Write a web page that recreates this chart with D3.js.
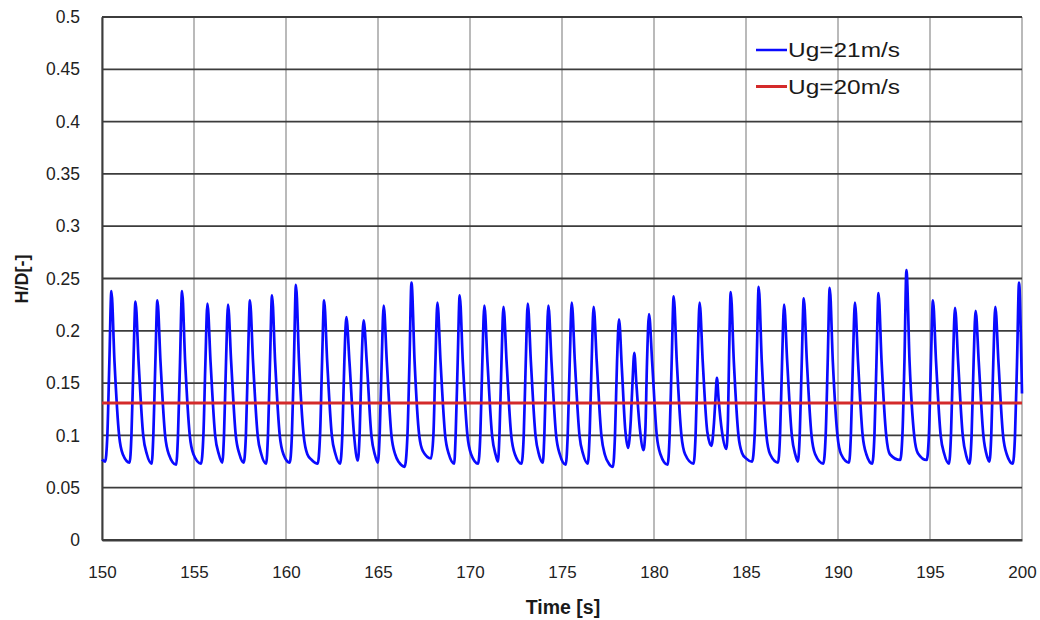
<!DOCTYPE html>
<html>
<head>
<meta charset="utf-8">
<script src="https://cdn.jsdelivr.net/npm/d3@7"></script>
<style>
  html, body { margin: 0; padding: 0; background: #ffffff; }
  svg { display: block; font-family: "Liberation Sans", Arial, sans-serif; }
</style>
</head>
<body>
<svg id="chart" width="1040" height="620"></svg>
<script>
// ---------------- data ----------------
const xTicks = [150, 155, 160, 165, 170, 175, 180, 185, 190, 195, 200];
const xTickLabels = ["150", "155", "160", "165", "170", "175", "180", "185", "190", "195", "200"];
const yTicks = [0, 0.05, 0.1, 0.15, 0.2, 0.25, 0.3, 0.35, 0.4, 0.45, 0.5];
const yTickLabels = ["0", "0.05", "0.1", "0.15", "0.2", "0.25", "0.3", "0.35", "0.4", "0.45", "0.5"];
const seriesNames = ["Ug=21m/s", "Ug=20m/s"];

// Ug=21m/s : time [s]
const time21 = [
  150.00, 150.17,
  150.29, 150.40, 150.51, 150.68, 150.93, 151.13, 151.50,
  151.60, 151.71, 151.82, 151.99, 152.24, 152.44, 152.70,
  152.79, 152.90, 153.01, 153.18, 153.43, 153.63, 154.03,
  154.13, 154.24, 154.35, 154.52, 154.77, 154.97, 155.38,
  155.51, 155.62, 155.73, 155.90, 156.15, 156.35, 156.54,
  156.63, 156.74, 156.85, 157.02, 157.27, 157.47, 157.70,
  157.82, 157.93, 158.04, 158.21, 158.46, 158.66, 158.92,
  159.02, 159.13, 159.24, 159.41, 159.66, 159.86, 160.20,
  160.32, 160.43, 160.54, 160.71, 160.96, 161.16, 161.40, 161.72,
  161.85, 161.96, 162.07, 162.24, 162.49, 162.69, 162.94,
  163.06, 163.17, 163.28, 163.45, 163.70, 163.90,
  164.00, 164.11, 164.22, 164.39, 164.64, 164.84, 164.99,
  165.09, 165.20, 165.31, 165.48, 165.73, 165.93, 166.15, 166.45,
  166.60, 166.71, 166.82, 166.99, 167.24, 167.44, 167.88,
  168.01, 168.12, 168.23, 168.40, 168.65, 168.85, 169.14,
  169.22, 169.33, 169.44, 169.61, 169.86, 170.06, 170.44,
  170.56, 170.67, 170.78, 170.95, 171.20, 171.40, 171.52,
  171.60, 171.71, 171.82, 171.99, 172.24, 172.44, 172.80,
  172.92, 173.03, 173.14, 173.31, 173.56, 173.76, 173.96,
  174.04, 174.15, 174.26, 174.43, 174.68, 174.88, 175.20,
  175.31, 175.42, 175.53, 175.70, 175.95, 176.15, 176.40,
  176.50, 176.61, 176.72, 176.89, 177.14, 177.34, 177.55, 177.77,
  177.88, 177.99, 178.10, 178.25, 178.44, 178.59,
  178.74, 178.83, 178.93, 179.04, 179.24, 179.43,
  179.53, 179.62, 179.73, 179.90, 180.15, 180.35, 180.74,
  180.85, 180.96, 181.07, 181.24, 181.49, 181.69, 182.15,
  182.26, 182.37, 182.48, 182.65, 182.90, 183.12,
  183.26, 183.34, 183.42, 183.51, 183.70, 183.93,
  184.02, 184.08, 184.17, 184.34, 184.59, 184.79, 185.00, 185.33,
  185.47, 185.58, 185.69, 185.86, 186.11, 186.31, 186.74,
  186.85, 186.96, 187.07, 187.24, 187.49, 187.69, 187.82,
  187.92, 188.03, 188.14, 188.31, 188.56, 188.76, 189.20,
  189.33, 189.44, 189.55, 189.72, 189.97, 190.17, 190.60,
  190.70, 190.81, 190.92, 191.09, 191.34, 191.54, 191.86,
  191.98, 192.09, 192.20, 192.37, 192.62, 192.82, 193.38,
  193.50, 193.61, 193.72, 193.89, 194.14, 194.34, 194.82,
  194.94, 195.05, 195.16, 195.33, 195.58, 195.78, 196.03,
  196.14, 196.25, 196.36, 196.53, 196.78, 196.98, 197.15,
  197.26, 197.37, 197.48, 197.65, 197.90, 198.10, 198.23,
  198.33, 198.44, 198.55, 198.72, 198.97, 199.17, 199.50,
  199.62, 199.73, 199.84, 199.95, 200.00
];
// Ug=21m/s : H/D [-]
const hd21 = [
  0.077, 0.075,
  0.100, 0.170, 0.238, 0.170, 0.100, 0.082, 0.074,
  0.100, 0.170, 0.228, 0.170, 0.100, 0.082, 0.073,
  0.100, 0.170, 0.229, 0.170, 0.100, 0.082, 0.072,
  0.100, 0.170, 0.238, 0.170, 0.100, 0.082, 0.073,
  0.100, 0.170, 0.226, 0.170, 0.100, 0.082, 0.074,
  0.100, 0.170, 0.225, 0.170, 0.100, 0.082, 0.074,
  0.100, 0.170, 0.229, 0.170, 0.100, 0.082, 0.073,
  0.100, 0.170, 0.234, 0.170, 0.100, 0.082, 0.074,
  0.100, 0.170, 0.244, 0.170, 0.100, 0.082, 0.0765, 0.073,
  0.100, 0.170, 0.229, 0.170, 0.100, 0.082, 0.073,
  0.100, 0.170, 0.213, 0.170, 0.100, 0.076,
  0.100, 0.170, 0.210, 0.170, 0.100, 0.081, 0.074,
  0.100, 0.170, 0.224, 0.170, 0.100, 0.082, 0.074, 0.070,
  0.100, 0.170, 0.246, 0.170, 0.100, 0.085, 0.078,
  0.100, 0.170, 0.227, 0.170, 0.100, 0.082, 0.073,
  0.100, 0.170, 0.234, 0.170, 0.100, 0.082, 0.073,
  0.100, 0.170, 0.224, 0.170, 0.100, 0.081, 0.075,
  0.100, 0.170, 0.223, 0.170, 0.100, 0.082, 0.073,
  0.100, 0.170, 0.226, 0.170, 0.100, 0.081, 0.074,
  0.100, 0.170, 0.224, 0.170, 0.100, 0.082, 0.072,
  0.100, 0.170, 0.227, 0.170, 0.100, 0.082, 0.073,
  0.100, 0.170, 0.223, 0.170, 0.100, 0.081, 0.073, 0.070,
  0.100, 0.170, 0.211, 0.165, 0.105, 0.088,
  0.115, 0.150, 0.179, 0.150, 0.105, 0.086,
  0.105, 0.170, 0.216, 0.170, 0.100, 0.082, 0.072,
  0.100, 0.170, 0.233, 0.170, 0.100, 0.082, 0.073,
  0.100, 0.170, 0.227, 0.170, 0.103, 0.090,
  0.112, 0.135, 0.155, 0.135, 0.103, 0.087,
  0.115, 0.175, 0.237, 0.170, 0.100, 0.083, 0.078, 0.075,
  0.100, 0.170, 0.242, 0.170, 0.100, 0.082, 0.074,
  0.100, 0.170, 0.225, 0.170, 0.100, 0.081, 0.075,
  0.100, 0.170, 0.231, 0.170, 0.100, 0.082, 0.073,
  0.100, 0.170, 0.241, 0.170, 0.100, 0.082, 0.074,
  0.100, 0.170, 0.227, 0.170, 0.100, 0.082, 0.073,
  0.100, 0.170, 0.236, 0.170, 0.100, 0.082, 0.0765,
  0.100, 0.170, 0.258, 0.170, 0.100, 0.083, 0.0765,
  0.100, 0.170, 0.229, 0.170, 0.100, 0.082, 0.073,
  0.100, 0.170, 0.222, 0.170, 0.100, 0.080, 0.073,
  0.100, 0.170, 0.219, 0.170, 0.100, 0.080, 0.075,
  0.100, 0.170, 0.223, 0.170, 0.100, 0.082, 0.073,
  0.100, 0.170, 0.246, 0.185, 0.140
];

// Ug=20m/s : constant level
const time20 = [150, 200];
const hd20 = [0.131, 0.131];

// ---------------- drawing ----------------
const svg = d3.select("#chart");
svg.append("rect").attr("width", 1040).attr("height", 620).attr("fill", "#ffffff");

const x = d3.scaleLinear().domain([150, 200]).range([102, 1022]);
const y = d3.scaleLinear().domain([0, 0.5]).range([540, 17]);

// vertical grid (light gray)
svg.append("g").selectAll("line").data(xTicks).join("line")
  .attr("x1", d => x(d)).attr("x2", d => x(d))
  .attr("y1", y(0)).attr("y2", y(0.5))
  .attr("stroke", "#a3a3a3").attr("stroke-width", 1.5);

// horizontal grid (dark)
svg.append("g").selectAll("line").data(yTicks).join("line")
  .attr("x1", x(150)).attr("x2", x(200))
  .attr("y1", d => y(d)).attr("y2", d => y(d))
  .attr("stroke", "#3c3c3c").attr("stroke-width", 1.8);

// axes
const yAxis = d3.axisLeft(y).tickValues(yTicks)
  .tickFormat((d, i) => yTickLabels[i]).tickSize(0).tickSizeOuter(0).tickPadding(22);
const gy = svg.append("g").attr("transform", `translate(${x(150)},0)`).call(yAxis);
gy.select(".domain").attr("stroke", "#3c3c3c").attr("stroke-width", 2);
gy.selectAll(".tick text").attr("font-size", "17.5px").attr("fill", "#222222")
  .attr("font-family", "Liberation Sans, Arial, sans-serif");

const xAxis = d3.axisBottom(x).tickValues(xTicks)
  .tickFormat((d, i) => xTickLabels[i]).tickSize(0).tickSizeOuter(0).tickPadding(26);
const gx = svg.append("g").attr("transform", `translate(0,${y(0)})`).call(xAxis);
gx.select(".domain").attr("stroke", "#3c3c3c").attr("stroke-width", 2);
gx.selectAll(".tick text").attr("font-size", "17px").attr("fill", "#222222")
  .attr("font-family", "Liberation Sans, Arial, sans-serif");

// series
const line = d3.line().x(d => x(d[0])).y(d => y(d[1])).curve(d3.curveMonotoneX);
const pts21 = time21.map((t, i) => [t, hd21[i]]);
const pts20 = time20.map((t, i) => [t, hd20[i]]);

svg.append("path").datum(pts21).attr("d", line)
  .attr("fill", "none").attr("stroke", "#0a0aff").attr("stroke-width", 2.7)
  .attr("stroke-linejoin", "round");
svg.append("path").datum(pts20).attr("d", line)
  .attr("fill", "none").attr("stroke", "#d42a2a").attr("stroke-width", 3);

// axis titles
svg.append("text").attr("x", 563).attr("y", 614).attr("text-anchor", "middle")
  .attr("font-size", "19.5px").attr("font-weight", "bold").attr("fill", "#1a1a1a")
  .text("Time [s]");
svg.append("text").attr("transform", "translate(28,279) rotate(-90)")
  .attr("text-anchor", "middle").attr("font-size", "18px").attr("font-weight", "bold")
  .attr("fill", "#1a1a1a").text("H/D[-]");

// legend
const legendColors = ["#0a0aff", "#d42a2a"];
const legendY = [50, 86.5];
const lg = svg.append("g");
seriesNames.forEach((name, i) => {
  lg.append("line").attr("x1", 756).attr("x2", 787)
    .attr("y1", legendY[i]).attr("y2", legendY[i])
    .attr("stroke", legendColors[i]).attr("stroke-width", i === 0 ? 2.5 : 3);
  lg.append("text").attr("x", 788).attr("y", legendY[i] + 7)
    .attr("font-size", "19.5px").attr("fill", "#1a1a1a")
    .attr("textLength", 112).attr("lengthAdjust", "spacingAndGlyphs")
    .text(name);
});
</script>
</body>
</html>
